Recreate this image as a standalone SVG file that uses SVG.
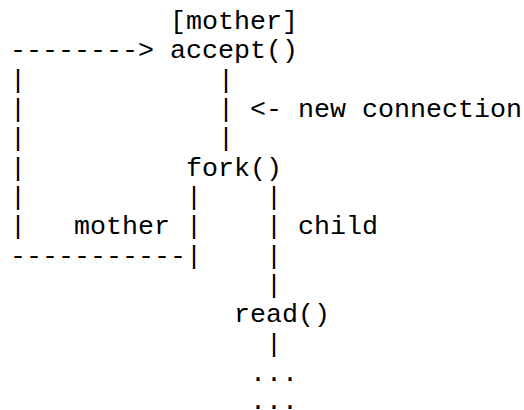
<svg xmlns="http://www.w3.org/2000/svg" width="524" height="410" viewBox="0 0 524 410">
<style>
text { font-family: "Courier New", "Liberation Mono", monospace; font-size: 26.667px; fill: #000; white-space: pre; }
</style>
<rect width="524" height="410" fill="#fff"/>
<g transform="translate(0,2.5)">
<g id="connectors">
  <text x="10" y="55.8">--------&gt;</text>
  <text x="10" y="85.2">|</text>
  <text x="10" y="114.5">|</text>
  <text x="10" y="143.8">|</text>
  <text x="10" y="173.2">|</text>
  <text x="10" y="202.5">|</text>
  <text x="10" y="231.8">|</text>
  <text x="10" y="261.1">-----------</text>
  <text x="218" y="85.2">|</text>
  <text x="218" y="114.5">|</text>
  <text x="218" y="143.8">|</text>
  <text x="186" y="202.5">|</text>
  <text x="186" y="231.8">|</text>
  <text x="186" y="261.1">|</text>
  <text x="266" y="202.5">|</text>
  <text x="266" y="231.8">|</text>
  <text x="266" y="261.1">|</text>
  <text x="266" y="290.5">|</text>
  <text x="266" y="349.1">|</text>
</g>
<g id="mother-label"><text x="170" y="26.5">[mother]</text></g>
<g id="accept"><text x="170" y="55.8">accept()</text></g>
<g id="new-connection"><text x="250" y="114.5">&lt;- new connection</text></g>
<g id="fork"><text x="186" y="173.2">fork()</text></g>
<g id="mother-branch"><text x="74" y="231.8">mother</text></g>
<g id="child-branch"><text x="298" y="231.8">child</text></g>
<g id="read"><text x="234" y="319.8">read()</text></g>
<g id="dots1"><text x="250" y="378.5">...</text></g>
<g id="dots2"><text x="250" y="406.5">...</text></g>
</g>
</svg>
